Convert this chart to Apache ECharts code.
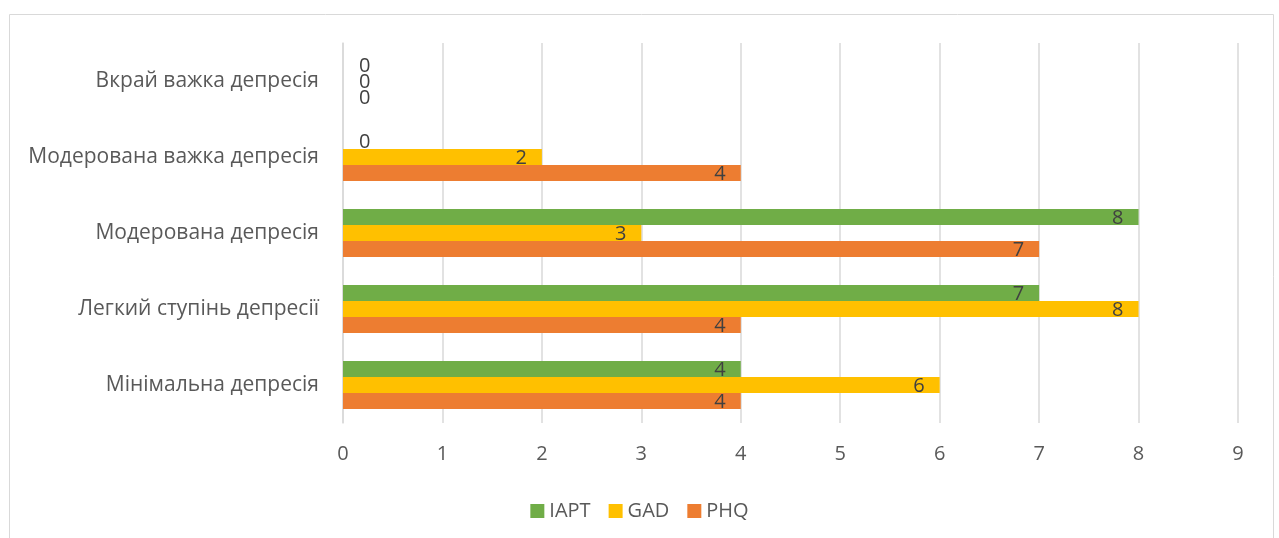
<!DOCTYPE html>
<html>
<head>
<meta charset="utf-8">
<script src="https://cdn.jsdelivr.net/npm/echarts@6/dist/echarts.min.js"></script>
<style>
  html, body { margin: 0; padding: 0; background: #fff; }
  #chart { width: 1279px; height: 538px; }
</style>
</head>
<body>
<div id="chart"></div>
<script>
// категорії знизу вгору
const categories = ['Мінімальна депресія', 'Легкий ступінь депресії', 'Модерована депресія', 'Модерована важка депресія', 'Вкрай важка депресія']
const iapt = [4, 7, 8, 0, 0]
const gad = [6, 8, 3, 2, 0]
const phq = [4, 4, 7, 4, 0]
const xTicks = { min: 0, max: 9, interval: 1 }

const FONT = '"Open Sans", "Noto Sans", sans-serif'

/* нулі малюємо праворуч від осі, решту - всередині біля кінця */
const toData = arr => arr.map(v => v === 0
  ? { value: v, label: { position: 'right', distance: 16 } }
  : v)

const makeSeries = (name, color, arr) => ({
  name,
  type: 'bar',
  data: toData(arr),
  barGap: 0,
  barCategoryGap: '37%',
  itemStyle: { color },
  label: {
    show: true,
    position: 'insideRight',
    distance: 15,
    offset: [0, 1],
    color: '#404040',
    fontSize: 20,
    fontFamily: FONT
  }
})

const myChart = echarts.init(document.getElementById('chart'))
myChart.setOption({
  animation: false,
  textStyle: { fontFamily: FONT },
  graphic: [{
    type: 'rect',
    shape: { x: 9.5, y: 14.5, width: 1264, height: 540 },
    style: { fill: 'none', stroke: '#d9d9d9', lineWidth: 1 },
    silent: true
  }],
  grid: { left: 343, right: 41, top: 43, bottom: 115, containLabel: false },
  legend: {
    data: ['IAPT', 'GAD', 'PHQ'],
    bottom: 12,
    left: 'center',
    itemWidth: 14,
    itemHeight: 14,
    itemGap: 18,
    icon: 'rect',
    textStyle: { color: '#595959', fontSize: 20, fontFamily: FONT }
  },
  xAxis: {
    type: 'value',
    min: xTicks.min,
    max: xTicks.max,
    interval: xTicks.interval,
    axisLine: { show: false },
    axisTick: { show: false },
    splitLine: { lineStyle: { color: '#d9d9d9', width: 1.5 } },
    axisLabel: { color: '#595959', fontSize: 20, margin: 21, fontFamily: FONT }
  },
  yAxis: {
    type: 'category',
    data: categories,
    axisLine: { lineStyle: { color: '#d9d9d9', width: 1.5 } },
    axisTick: { show: false },
    axisLabel: { color: '#595959', fontSize: 21, margin: 24, fontFamily: FONT }
  },
  series: [
    makeSeries('IAPT', '#70AD47', iapt),
    makeSeries('GAD', '#FFC000', gad),
    makeSeries('PHQ', '#ED7D31', phq)
  ]
})
</script>
</body>
</html>
